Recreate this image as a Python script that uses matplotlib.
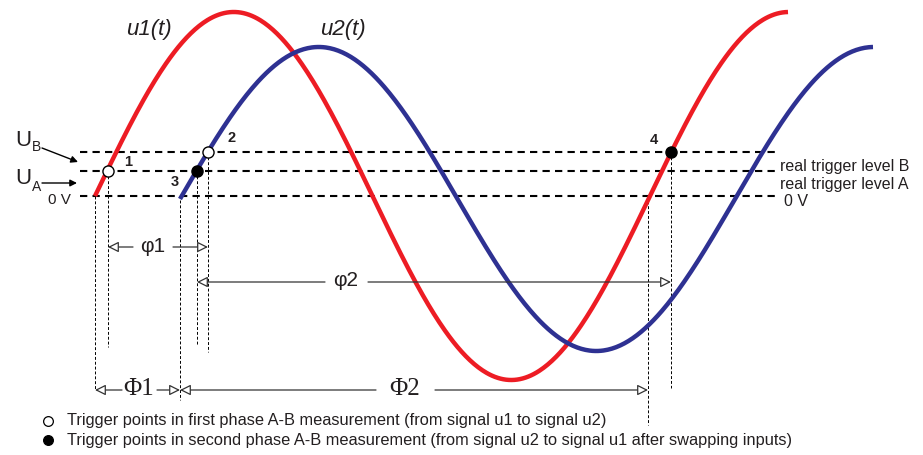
import numpy as np
import matplotlib.pyplot as plt

# signal parameters (pixel units, y grows downwards)
period = 555.0
u1_start, u1_end, u1_center, u1_amp = 95, 788, 196, 184
u2_start, u2_end, u2_center, u2_amp = 180, 873, 199, 152

# horizontal levels
level_names = ['real trigger level B', 'real trigger level A', '0 V']
level_y = [152, 171, 196]

# trigger points: x, y, label, filled
trig_x = [108, 208, 197, 671]
trig_y = [171, 152, 171, 152]
trig_lbl = ['1', '2', '3', '4']
trig_filled = [False, False, True, True]
lbl_x = [128, 232, 175, 654]
lbl_y = [162, 138, 182, 140]

# vertical helper lines: x, bottom y
vline_x = [95, 108, 180, 197, 208, 648, 671]
vline_y0 = [196, 171, 200, 171, 152, 196, 152]
vline_y1 = [390, 347, 400, 345, 352, 425, 388]

legend_texts = ['Trigger points in first phase A-B measurement (from signal u1 to signal u2)',
	'Trigger points in second phase A-B measurement (from signal u2 to signal u1 after swapping inputs)']

RED = '#ed1c24'
BLUE = '#2e3192'
TXT = '#231f20'


def dim_arrow(ax, x0, x1, y, gap0, gap1):
	# two halves pointing outward, gap in the middle for the text
	kw = dict(arrowstyle='-|>', fc='white', ec='#333333', lw=0.9,
		shrinkA=0, shrinkB=0, mutation_scale=16)
	ax.annotate('', xy=(x0, y), xytext=(gap0, y), arrowprops=kw)
	ax.annotate('', xy=(x1, y), xytext=(gap1, y), arrowprops=kw)


def main():
	plt.rcParams['font.family'] = ['Liberation Sans', 'DejaVu Sans']
	fig = plt.figure(figsize=(9.23, 4.55), dpi=100)
	ax = fig.add_axes([0, 0, 1, 1])
	ax.set_xlim(0, 923)
	ax.set_ylim(455, 0)
	ax.axis('off')

	# horizontal dashed levels
	for y in level_y:
		ax.plot([80, 775], [y, y], color='black', lw=1.5, ls=(0, (3.5, 2.5)))

	# vertical thin dashed lines
	for x, a, b in zip(vline_x, vline_y0, vline_y1):
		ax.plot([x, x], [a, b], color='black', lw=0.7, ls=(0, (3, 2)))

	# signals
	t1 = np.linspace(u1_start, u1_end, 500)
	ax.plot(t1, u1_center - u1_amp * np.sin(2 * np.pi * (t1 - u1_start) / period),
		color=RED, lw=3.2, solid_capstyle='butt')
	t2 = np.linspace(u2_start, u2_end, 500)
	ax.plot(t2, u2_center - u2_amp * np.sin(2 * np.pi * (t2 - u2_start) / period),
		color=BLUE, lw=3.2, solid_capstyle='butt')

	ax.text(126, 29, 'u1(t)', fontsize=16, style='italic', color=TXT, va='center')
	ax.text(320, 29, 'u2(t)', fontsize=16, style='italic', color=TXT, va='center')

	# trigger points
	for x, y, f in zip(trig_x, trig_y, trig_filled):
		ax.plot(x, y, 'o', ms=8, mec='black', mew=1.0,
			mfc='black' if f else 'white', zorder=5)
	for x, y, s in zip(lbl_x, lbl_y, trig_lbl):
		ax.text(x, y, s, fontsize=10.5, fontweight='bold', color=TXT,
			ha='center', va='center')

	# left labels
	ax.text(15, 140, 'U', fontsize=16, color=TXT, va='center')
	ax.text(32, 147, 'B', fontsize=10, color=TXT, va='center')
	ax.text(15, 179, 'U', fontsize=16, color=TXT, va='center')
	ax.text(32, 187, 'A', fontsize=10, color=TXT, va='center')
	ax.annotate('', xy=(78, 162), xytext=(42, 148),
		arrowprops=dict(arrowstyle='-|>', color='black', lw=1.0, mutation_scale=10,
			shrinkA=0, shrinkB=0))
	ax.annotate('', xy=(77, 183), xytext=(42, 183),
		arrowprops=dict(arrowstyle='-|>', color='black', lw=1.0, mutation_scale=10,
			shrinkA=0, shrinkB=0))
	ax.text(48, 200, '0 V', fontsize=11, color=TXT, va='center')

	# right labels
	ax.text(780, 167, level_names[0], fontsize=11.5, color=TXT, va='center')
	ax.text(780, 184, level_names[1], fontsize=11.5, color=TXT, va='center')
	ax.text(784, 202, level_names[2], fontsize=11.5, color=TXT, va='center')

	# phase arrows
	dim_arrow(ax, 108, 208, 247, 133, 173)
	ax.text(153, 246, 'φ1', fontsize=15, color=TXT, ha='center', va='center')
	dim_arrow(ax, 197, 671, 282, 325, 368)
	ax.text(346, 281, 'φ2', fontsize=15, color=TXT, ha='center', va='center')
	dim_arrow(ax, 95, 180, 390, 122, 157)
	ax.text(139, 389, 'Φ1', fontsize=18, color=TXT, ha='center', va='center',
		family='Liberation Serif')
	dim_arrow(ax, 180, 648, 390, 376, 435)
	ax.text(405, 389, 'Φ2', fontsize=18, color=TXT, ha='center', va='center',
		family='Liberation Serif')

	# legend
	ax.plot(48, 421, 'o', ms=7, mec='black', mew=0.9, mfc='white')
	ax.plot(48, 440, 'o', ms=7, mec='black', mew=0.9, mfc='black')
	ax.text(67, 421, legend_texts[0], fontsize=11.75, color=TXT, va='center')
	ax.text(67, 440, legend_texts[1], fontsize=11.75, color=TXT, va='center')

	fig.savefig('out.png', dpi=100)
	plt.close(fig)


if __name__ == '__main__':
	main()
